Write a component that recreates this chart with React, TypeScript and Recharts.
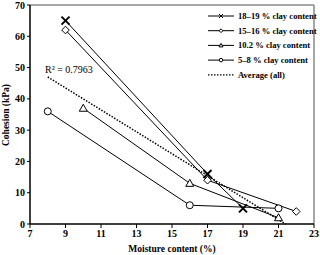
import React from "react";
import { Line, LineChart, ReferenceLine, XAxis, YAxis } from "recharts";

document.body.style.margin = "0";

const moistureTicks = [7, 9, 11, 13, 15, 17, 19, 21, 23];
const cohesionTicks = [0, 10, 20, 30, 40, 50, 60, 70];

const clay1819 = [
  { x: 9, y: 65 },
  { x: 17, y: 16 },
  { x: 19, y: 5 },
];
const clay1516 = [
  { x: 9, y: 62 },
  { x: 17, y: 14 },
  { x: 22, y: 4 },
];
const clay102 = [
  { x: 10, y: 37 },
  { x: 16, y: 13 },
  { x: 21, y: 2 },
];
const clay58 = [
  { x: 8, y: 36 },
  { x: 16, y: 6 },
  { x: 21, y: 5 },
];
const average = [
  { x: 8, y: 47 },
  { x: 21.4, y: 0 },
];

const FONT = "'Liberation Serif', 'Times New Roman', serif";

type Kind = "cross" | "diamond" | "triangle" | "circle";

function Marker({ kind, cx, cy, s = 1 }: { kind: Kind; cx: number; cy: number; s?: number }) {
  if (kind === "cross") {
    const r = 4 * s;
    return (
      <g stroke="#000" strokeWidth={2 * s}>
        <line x1={cx - r} y1={cy - r} x2={cx + r} y2={cy + r} />
        <line x1={cx - r} y1={cy + r} x2={cx + r} y2={cy - r} />
      </g>
    );
  }
  if (kind === "diamond") {
    const r = 3.8 * s;
    return (
      <polygon
        points={`${cx},${cy - r} ${cx + r},${cy} ${cx},${cy + r} ${cx - r},${cy}`}
        fill="#fff"
        stroke="#000"
        strokeWidth={1}
      />
    );
  }
  if (kind === "triangle") {
    const r = 4 * s;
    return (
      <polygon
        points={`${cx},${cy - r} ${cx + r},${cy + r * 0.75} ${cx - r},${cy + r * 0.75}`}
        fill="#fff"
        stroke="#000"
        strokeWidth={1}
      />
    );
  }
  return <circle cx={cx} cy={cy} r={3.5 * s} fill="#fff" stroke="#000" strokeWidth={1} />;
}

const dotOf = (kind: Kind) => (p: any) => (
  <Marker key={`${kind}-${p.index}`} kind={kind} cx={p.cx} cy={p.cy} />
);

const legendRows: { label: string; kind: Kind | null }[] = [
  { label: "18–19 % clay content", kind: "cross" },
  { label: "15–16 % clay content", kind: "diamond" },
  { label: "10.2 % clay content", kind: "triangle" },
  { label: "5–8 % clay content", kind: "circle" },
  { label: "Average (all)", kind: null },
];

function LegendBox() {
  return (
    <svg width={110} height={80} style={{ display: "block" }}>
      {legendRows.map((r, i) => {
        const y = 6 + i * 14.7;
        return (
          <g key={r.label}>
            <line
              x1={0}
              x2={26}
              y1={y}
              y2={y}
              stroke="#000"
              strokeWidth={r.kind ? 1 : 1.2}
              strokeDasharray={r.kind ? undefined : "1.5 1.5"}
            />
            {r.kind && <Marker kind={r.kind} cx={13} cy={y} s={0.5} />}
            <text
              x={30}
              y={y + 3}
              fontFamily={FONT}
              fontWeight="bold"
              fontSize={8.6}
              fill="#000"
            >
              {r.label}
            </text>
          </g>
        );
      })}
    </svg>
  );
}

const tickStyle = { fontFamily: FONT, fontWeight: "bold" as const, fontSize: 10, fill: "#000" };

export default function App() {
  return (
    <div style={{ position: "relative", width: 320, height: 255, background: "#fff" }}>
      <LineChart
        width={320}
        height={255}
        margin={{ top: 5, right: 6, bottom: 0, left: 0 }}
      >
        <XAxis
          type="number"
          dataKey="x"
          domain={[7, 23]}
          ticks={moistureTicks}
          interval={0}
          tick={tickStyle}
          tickSize={4}
          height={31}
          axisLine={{ stroke: "#000", strokeWidth: 1.5 }}
          tickLine={{ stroke: "#000" }}
          allowDuplicatedCategory={false}
          label={{
            value: "Moisture content (%)",
            position: "insideBottom",
            offset: 3,
            style: { fontFamily: FONT, fontWeight: "bold", fontSize: 9.5, fill: "#000" },
          }}
        />
        <YAxis
          type="number"
          dataKey="y"
          domain={[0, 70]}
          ticks={cohesionTicks}
          interval={0}
          tick={tickStyle}
          tickSize={3}
          width={30}
          axisLine={{ stroke: "#000", strokeWidth: 1.5 }}
          tickLine={{ stroke: "#000" }}
        />
        <ReferenceLine y={70} stroke="#888" strokeWidth={1.5} />
        <ReferenceLine x={23} stroke="#888" strokeWidth={1.5} />
        <Line
          data={average}
          dataKey="y"
          stroke="#000"
          strokeWidth={1.5}
          strokeDasharray="1.5 1.5"
          dot={false}
          isAnimationActive={false}
        />
        <Line
          data={clay1819}
          dataKey="y"
          stroke="#000"
          strokeWidth={1}
          dot={dotOf("cross")}
          isAnimationActive={false}
        />
        <Line
          data={clay1516}
          dataKey="y"
          stroke="#000"
          strokeWidth={1}
          dot={dotOf("diamond")}
          isAnimationActive={false}
        />
        <Line
          data={clay102}
          dataKey="y"
          stroke="#000"
          strokeWidth={1}
          dot={dotOf("triangle")}
          isAnimationActive={false}
        />
        <Line
          data={clay58}
          dataKey="y"
          stroke="#000"
          strokeWidth={1}
          dot={dotOf("circle")}
          isAnimationActive={false}
        />
      </LineChart>
      <div style={{ position: "absolute", left: 208, top: 10 }}>
        <LegendBox />
      </div>
      <svg
        width={14}
        height={255}
        style={{ position: "absolute", left: 0, top: 0 }}
      >
        <text
          transform="translate(9,115) rotate(-90)"
          textAnchor="middle"
          fontFamily={FONT}
          fontWeight="bold"
          fontSize={9.5}
          fill="#000"
        >
          Cohesion (kPa)
        </text>
      </svg>
      <div
        style={{
          position: "absolute",
          left: 45,
          top: 64,
          fontFamily: FONT,
          fontSize: 10,
          color: "#000",
          whiteSpace: "nowrap",
        }}
      >
        R² = 0.7963
      </div>
    </div>
  );
}
